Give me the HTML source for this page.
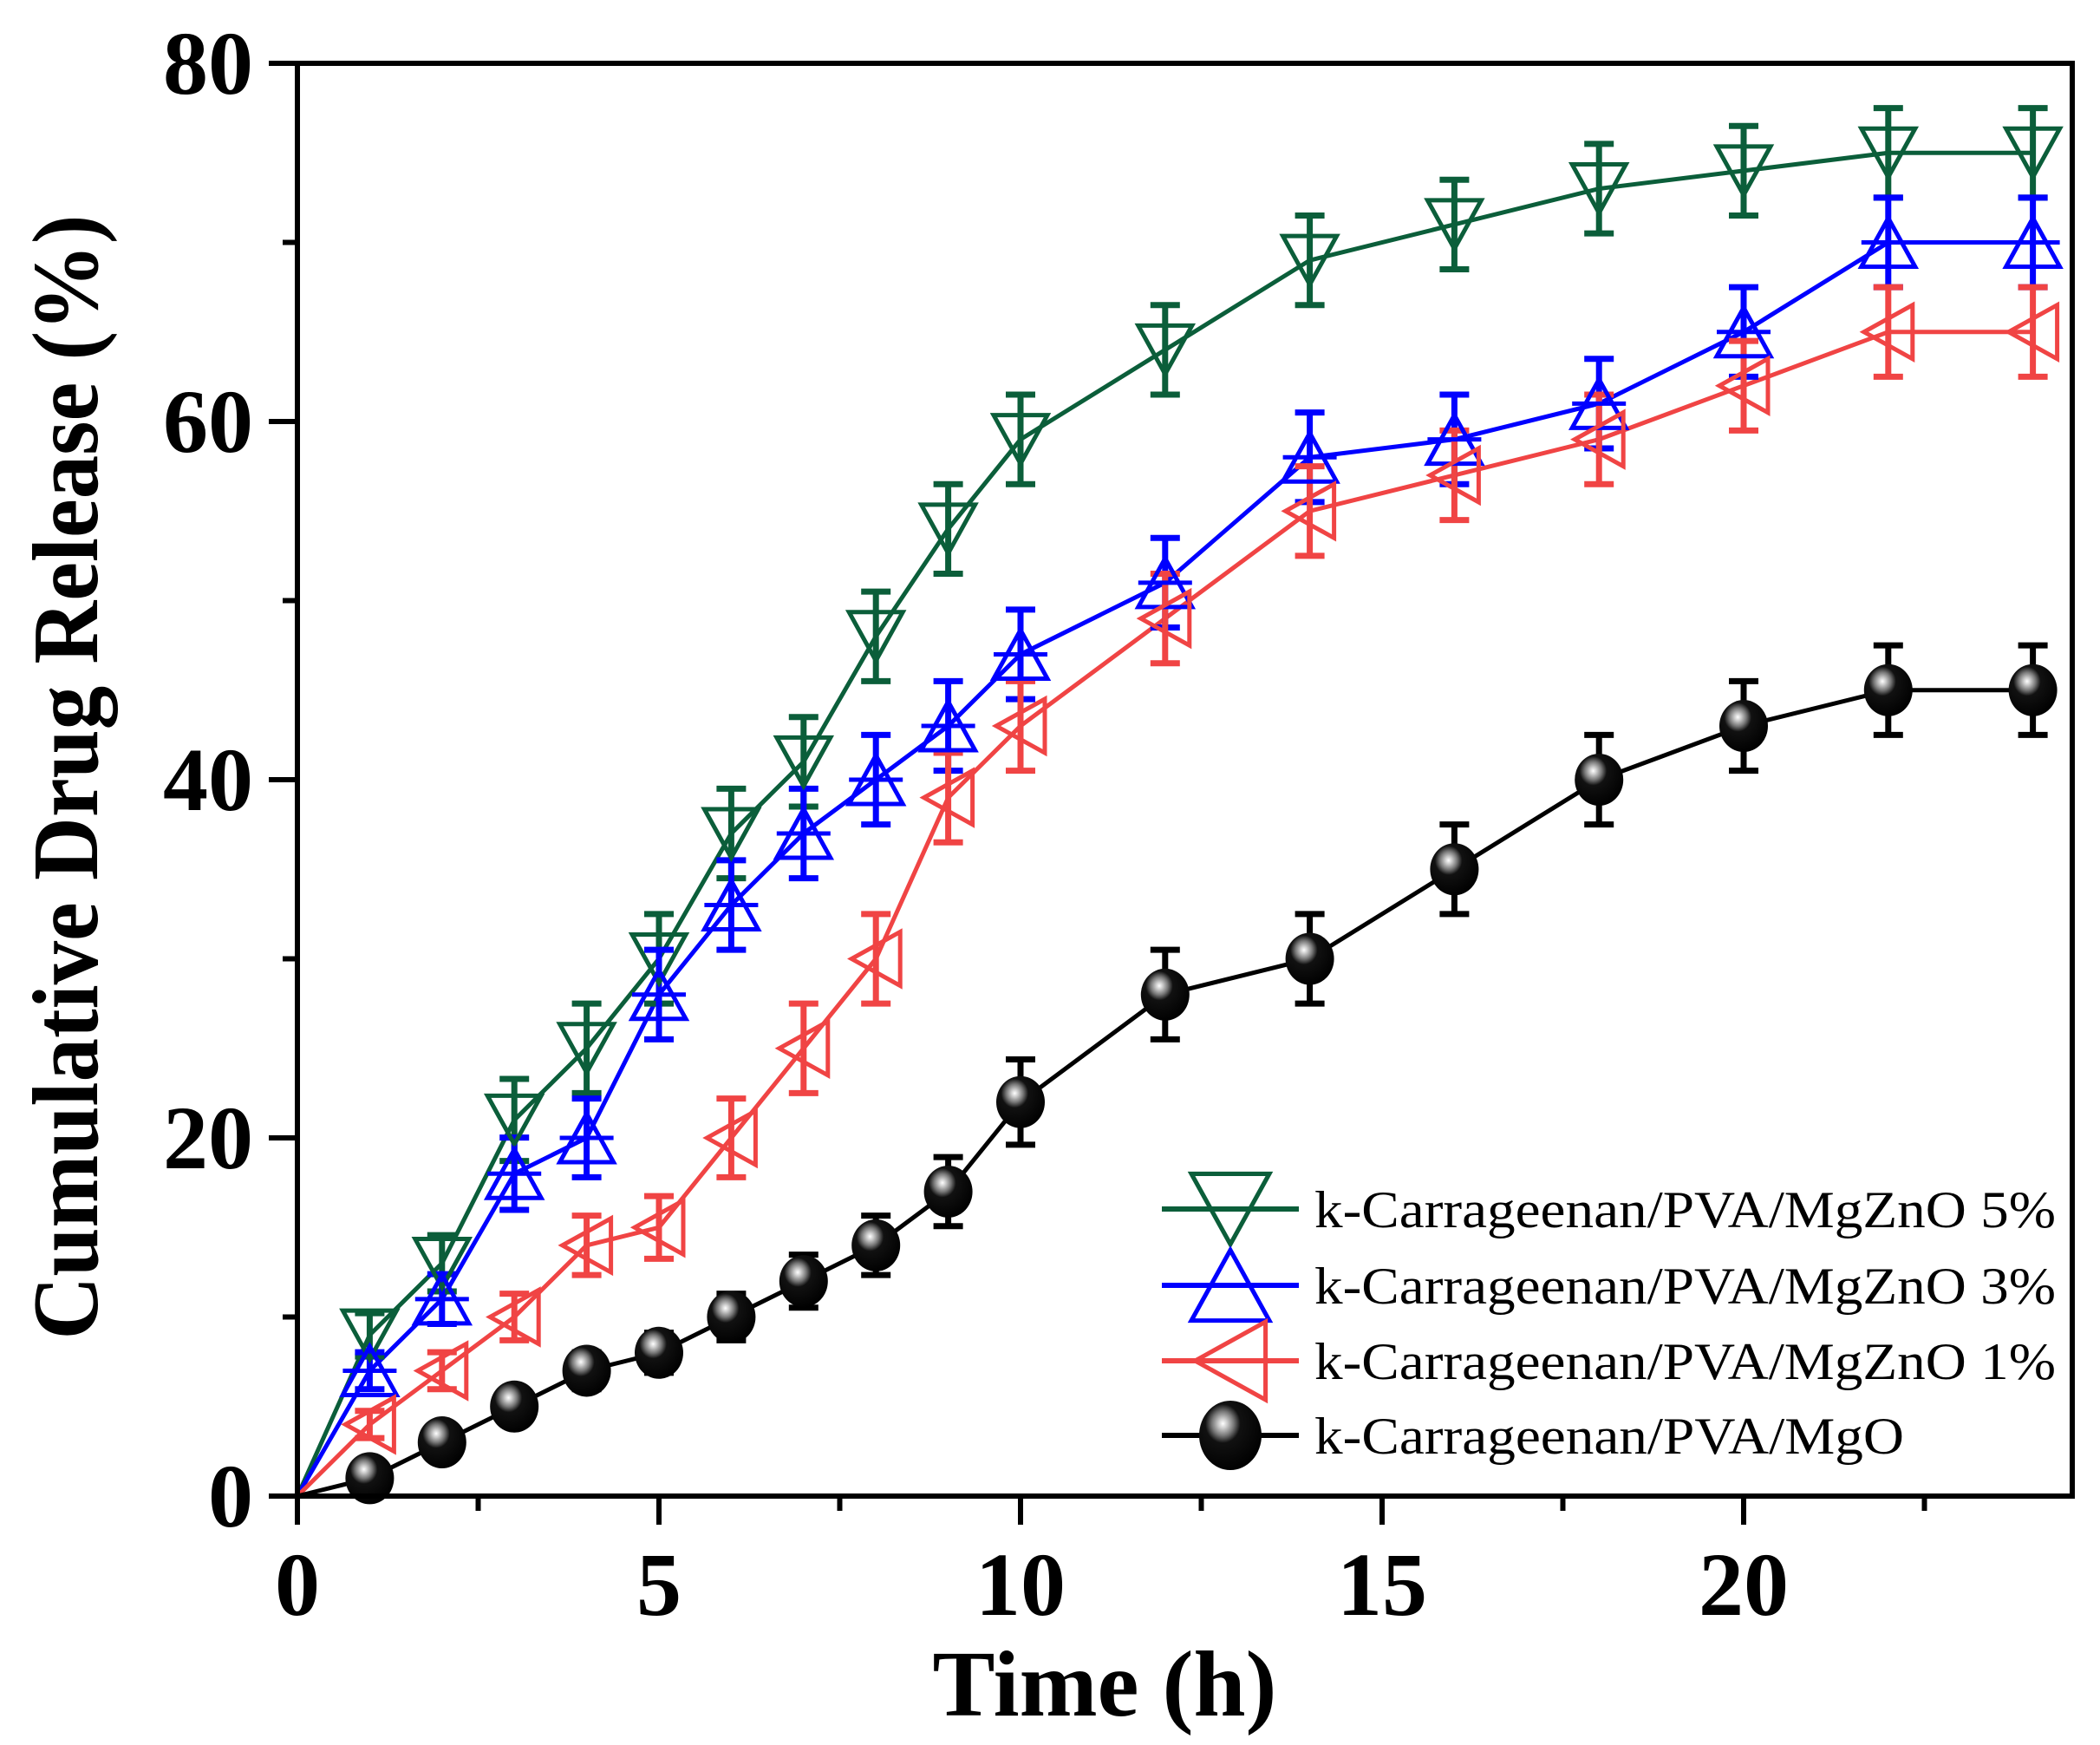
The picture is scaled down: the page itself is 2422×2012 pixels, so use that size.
<!DOCTYPE html>
<html><head><meta charset="utf-8"><style>
html,body{margin:0;padding:0;background:#fff;}
svg{display:block;}
text{font-family:"Liberation Serif",serif;}
</style></head><body>
<svg id="s" width="2422" height="2012" viewBox="0 0 2422 2012" xmlns="http://www.w3.org/2000/svg">
<defs>
<radialGradient id="sph" cx="0.38" cy="0.33" r="0.7">
<stop offset="0" stop-color="#fff"/><stop offset="0.1" stop-color="#ccc"/><stop offset="0.25" stop-color="#777"/><stop offset="0.4" stop-color="#111"/><stop offset="1" stop-color="#000"/>
</radialGradient>
</defs>
<g id="plot"></g>
<rect x="343" y="73" width="2047" height="1652" fill="none" stroke="#000" stroke-width="6"/>
<g id="ticks" stroke="#000" stroke-width="6"></g>
<g font-weight="bold" font-size="104" text-anchor="end">
<text x="292" y="1760">0</text>
<text x="292" y="1347">20</text>
<text x="292" y="934">40</text>
<text x="292" y="521">60</text>
<text x="292" y="108">80</text>
</g>
<g font-weight="bold" font-size="104" text-anchor="middle">
<text x="343" y="1862">0</text>
<text x="760" y="1862">5</text>
<text x="1177" y="1862">10</text>
<text x="1594" y="1862">15</text>
<text x="2011" y="1862">20</text>
</g>
<text x="1274" y="1978" font-weight="bold" font-size="108" text-anchor="middle">Time (h)</text>
<text transform="translate(112,896) rotate(-90)" font-weight="bold" font-size="108" text-anchor="middle" textLength="1297" lengthAdjust="spacingAndGlyphs">Cumulative Drug Release (%)</text>
<g font-size="60">
<text x="1516" y="1415" textLength="855" lengthAdjust="spacingAndGlyphs">k-Carrageenan/PVA/MgZnO 5%</text>
<text x="1516" y="1503" textLength="855" lengthAdjust="spacingAndGlyphs">k-Carrageenan/PVA/MgZnO 3%</text>
<text x="1516" y="1590" textLength="855" lengthAdjust="spacingAndGlyphs">k-Carrageenan/PVA/MgZnO 1%</text>
<text x="1516" y="1676" textLength="680" lengthAdjust="spacingAndGlyphs">k-Carrageenan/PVA/MgO</text>
</g>
<g id="leg"></g>
</svg>
<script>
var NS="http://www.w3.org/2000/svg";
function X(t){return 343+83.4*t;}
function Y(v){return 1725-20.65*v;}
function el(p,n,a){var e=document.createElementNS(NS,n);for(var k in a)e.setAttribute(k,a[k]);p.appendChild(e);return e;}
var T=[0,1,2,3,4,5,6,7,8,9,10,12,14,16,18,20,22,24];
var S=[
{c:"#0b5e3a",m:"down",d:[0,9,13,21,25,30,37,41,48,54,59,64,69,71,73,74,75,75]},
{c:"#0000ff",m:"up",d:[0,7,11,18,20,28,33,37,40,43,47,51,58,59,61,65,70,70]},
{c:"#f04444",m:"left",d:[0,4,7,10,14,15,20,25,30,39,43,49,55,57,59,62,65,65]},
{c:"#000",m:"ball",d:[0,1,3,5,7,8,10,12,14,17,22,28,30,35,40,43,45,45]}
];
var tk=document.getElementById("ticks");
for(var v=0;v<=80;v+=10){var L=(v%20==0)?33:17;el(tk,"line",{x1:343-L,y1:Y(v),x2:343,y2:Y(v)});}
for(var t=0;t<=24;t+=2.5){var L=(t%5==0)?33:17;el(tk,"line",{x1:X(t),y1:1725,x2:X(t),y2:1725+L});}
function marker(g,m,x,y,c,sw){
 var s=31,h=28;sw=sw||5;
 if(m=="down")el(g,"polygon",{points:(x-s)+","+(y-h)+" "+(x+s)+","+(y-h)+" "+x+","+(y+h),fill:"none",stroke:c,"stroke-width":sw});
 else if(m=="up"){el(g,"polygon",{points:(x-s)+","+(y+h)+" "+(x+s)+","+(y+h)+" "+x+","+(y-h),fill:"none",stroke:c,"stroke-width":sw});
  el(g,"line",{x1:x-s,y1:y,x2:x+s,y2:y,stroke:c,"stroke-width":sw});}
 else if(m=="left")el(g,"polygon",{points:(x+h)+","+(y-s)+" "+(x+h)+","+(y+s)+" "+(x-h)+","+y,fill:"none",stroke:c,"stroke-width":sw});
 else el(g,"ellipse",{cx:x,cy:y,rx:28,ry:30,fill:"url(#sph)"});
}
var P=document.getElementById("plot");
S.forEach(function(s){
 var pts=T.map(function(t,i){return X(t)+","+Y(s.d[i]);}).join(" ");
 el(P,"polyline",{points:pts,fill:"none",stroke:s.c,"stroke-width":5});
});
S.forEach(function(s){
 T.forEach(function(t,i){
  var v=s.d[i];if(i==0)return;
  var e=Math.min(2.5,0.4+0.09*v),x=X(t);
  el(P,"line",{x1:x,y1:Y(v+e),x2:x,y2:Y(v-e),stroke:s.c,"stroke-width":7});
  el(P,"line",{x1:x-17,y1:Y(v+e),x2:x+17,y2:Y(v+e),stroke:s.c,"stroke-width":7});
  el(P,"line",{x1:x-17,y1:Y(v-e),x2:x+17,y2:Y(v-e),stroke:s.c,"stroke-width":7});
 });
});
S.forEach(function(s){T.forEach(function(t,i){if(i==0)return;marker(P,s.m,X(t),Y(s.d[i]),s.c);});});
var G=document.getElementById("leg"),ly=[1394,1482,1569,1655];
S.forEach(function(s,i){
 el(G,"line",{x1:1340,y1:ly[i],x2:1498,y2:ly[i],stroke:s.c,"stroke-width":6});
});
S.forEach(function(s,i){
 if(s.m=="ball")el(G,"ellipse",{cx:1419,cy:ly[i],rx:36,ry:40,fill:"url(#sph)"});
 else{var g=el(G,"g",{transform:"translate(1419,"+ly[i]+") scale(1.45)"});marker(g,s.m,0,0,s.c,3.5);}
});
</script>
</body></html>
